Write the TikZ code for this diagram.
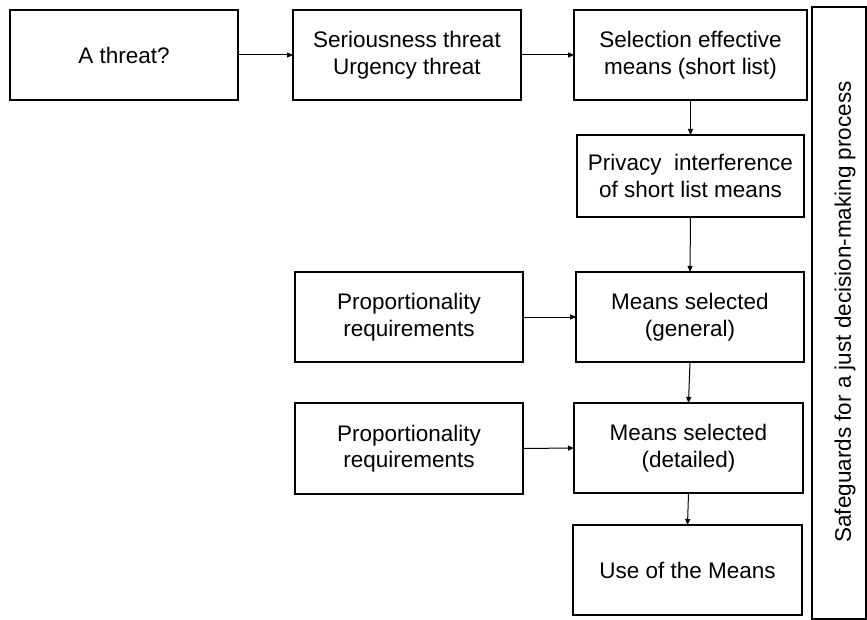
\documentclass[tikz,border=0pt]{standalone}
\usepackage{fontspec}
\setmainfont{Liberation Sans}
\usetikzlibrary{arrows.meta}
\begin{document}
\begin{tikzpicture}[x=1pt,y=-1pt,
  box/.style={draw=black,line width=1.1pt,inner sep=0pt,outer sep=0pt,align=center,
    font=\fontsize{22.5}{26.5}\selectfont},
  conn/.style={line width=1pt,-{Triangle[length=6pt,width=5pt]}}]
\useasboundingbox (0,0) rectangle (867,620);
\node[box,minimum width=228,minimum height=90] (threat) at (124,55) {A threat?};
\node[box,minimum width=228,minimum height=90] (serious) at (407,55) {Seriousness threat\\Urgency threat};
\node[box,minimum width=233,minimum height=90] (select) at (690.5,55) {Selection effective\\means (short list)};
\node[box,minimum width=227,minimum height=82] (privacy) at (690.5,176) {Privacy\ \ interference\\of short list means};
\node[box,minimum width=228,minimum height=90] (prop1) at (409,317) {Proportionality\\requirements};
\node[box,minimum width=228,minimum height=90] (general) at (690,317) {Means selected\\(general)};
\node[box,minimum width=228,minimum height=91] (prop2) at (409,448.5) {Proportionality\\requirements};
\node[box,minimum width=229,minimum height=90] (detailed) at (688.5,448) {Means selected\\(detailed)};
\node[box,minimum width=229,minimum height=90] (use) at (687.5,570) {Use of the Means};
\node[box,minimum width=54,minimum height=612] (safe) at (839,313) {};
\node[font=\fontsize{22.5}{26.5}\selectfont,rotate=90] (safetext) at (845,312) {Safeguards for a just decision-making process};
\draw[conn] (threat.east) -- (serious.west);
\draw[conn] (serious.east) -- (select.west);
\draw[conn] (select.south) -- (privacy.north);
\draw[conn] (privacy.south) -- (general.north);
\draw[conn] (prop1.east) -- (general.west);
\draw[conn] (general.south) -- (detailed.north);
\draw[conn] (prop2.east) -- (detailed.west);
\draw[conn] (detailed.south) -- (use.north);
\end{tikzpicture}
\end{document}
